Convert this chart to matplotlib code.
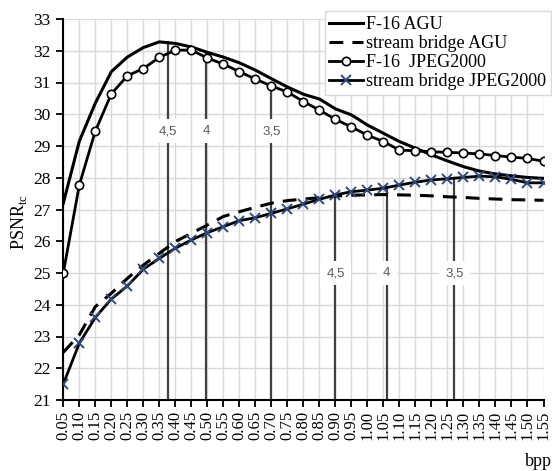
import matplotlib
matplotlib.use("Agg")
import matplotlib.pyplot as plt
import numpy as np

bpp_labels = ['0.05', '0.10', '0.15', '0.20', '0.25', '0.30', '0.35', '0.40',
              '0.45', '0.50', '0.55', '0.60', '0.65', '0.70', '0.75', '0.80',
              '0.85', '0.90', '0.95', '1.00', '1.05', '1.10', '1.15', '1.20',
              '1.25', '1.30', '1.35', '1.40', '1.45', '1.50', '1.55']

f16_agu = [27.2, 29.15, 30.35, 31.34, 31.8, 32.1, 32.28, 32.23, 32.12, 31.95,
           31.8, 31.62, 31.39, 31.12, 30.86, 30.63, 30.48, 30.17, 29.98, 29.66,
           29.4, 29.14, 28.93, 28.72, 28.53, 28.35, 28.21, 28.12, 28.06, 28.01, 27.98]

bridge_agu = [22.5, 23.05, 23.94, 24.36, 24.83, 25.25, 25.62, 25.99, 26.25, 26.51,
              26.78, 26.93, 27.07, 27.2, 27.28, 27.33, 27.37, 27.42, 27.45, 27.46,
              27.47, 27.46, 27.45, 27.43, 27.4, 27.38, 27.35, 27.33, 27.31, 27.3, 27.29]

f16_jpeg = [25.0, 27.77, 29.47, 30.64, 31.21, 31.44, 31.79, 32.02, 32.02, 31.77,
            31.58, 31.34, 31.11, 30.89, 30.7, 30.4, 30.13, 29.84, 29.6, 29.34,
            29.14, 28.87, 28.85, 28.82, 28.8, 28.78, 28.75, 28.7, 28.65, 28.61, 28.52]

bridge_jpeg = [21.5, 22.79, 23.6, 24.18, 24.59, 25.12, 25.46, 25.78, 26.04, 26.27,
               26.46, 26.65, 26.74, 26.88, 27.02, 27.17, 27.32, 27.46, 27.56, 27.61,
               27.67, 27.77, 27.86, 27.93, 27.97, 28.01, 28.05, 28.03, 27.95, 27.84, 27.84]

# compression-ratio markers (category position, top value, label)
cr_labels = ['4,5', '4', '3,5']
f16_cr_pos = [6.54, 8.94, 13.0]
f16_cr_top = [32.27, 31.95, 30.92]
bridge_cr_pos = [17.0, 20.2, 24.42]
bridge_cr_top = [27.45, 27.7, 28.0]
f16_label_y = 29.47
bridge_label_y = 25.0

plt.rcParams['font.family'] = ['Liberation Serif', 'DejaVu Serif']
plt.rcParams['mathtext.fontset'] = 'custom'
plt.rcParams['mathtext.rm'] = 'Liberation Serif'

fig = plt.figure(figsize=(5.52, 4.71), dpi=100)
ax = fig.add_axes([63.3/552, 1-400/471, (543.5-63.3)/552, (400-19)/471])

x = np.arange(len(bpp_labels))

ax.set_xlim(0, len(bpp_labels)-1)
ax.set_ylim(21, 33)
ax.set_xticks(x)
ax.set_xticklabels(bpp_labels, rotation=90, fontsize=12)
ax.set_yticks(np.arange(21, 34, 1))
ax.tick_params(axis='y', labelsize=12.5, direction='out', length=5, width=1.3, pad=4)
ax.tick_params(axis='x', direction='out', length=5, width=1.3, pad=3)
ax.grid(True, color='#d9d9d9', linewidth=1.0)
ax.set_axisbelow(True)
for s in ['top', 'right']:
    ax.spines[s].set_visible(False)
for s in ['left', 'bottom']:
    ax.spines[s].set_linewidth(1.5)

# vertical marker lines
for pos, top in zip(f16_cr_pos, f16_cr_top):
    ax.plot([pos, pos], [21, top], color='#404040', lw=1.6, zorder=2)
for pos, top in zip(bridge_cr_pos, bridge_cr_top):
    ax.plot([pos, pos], [21, top], color='#404040', lw=1.6, zorder=2)
for pos, lab in zip(f16_cr_pos, cr_labels):
    ax.text(pos, f16_label_y, lab, ha='center', va='center', fontsize=9.5,
            family='Liberation Sans', color='#595959', zorder=3,
            bbox=dict(facecolor='white', edgecolor='none', pad=4.5))
for pos, lab in zip(bridge_cr_pos, cr_labels):
    ax.text(pos, bridge_label_y, lab, ha='center', va='center', fontsize=9.5,
            family='Liberation Sans', color='#595959', zorder=3,
            bbox=dict(facecolor='white', edgecolor='none', pad=4.5))

ax.plot(x, f16_agu, color='black', lw=2.2, label='F-16 AGU', zorder=4)
ax.plot(x, bridge_agu, color='black', lw=2.2, ls=(0, (4.5, 3)), label='stream bridge AGU', zorder=4)
ax.plot(x, f16_jpeg, color='black', lw=2.0, marker='o', markersize=6,
        markerfacecolor='white', markeredgecolor='black', markeredgewidth=1.2,
        label='F-16  JPEG2000', zorder=5)
ax.plot(x, bridge_jpeg, color='black', lw=2.0, marker='x', markersize=7,
        markeredgecolor='#2e4a7d', markeredgewidth=1.4,
        label='stream bridge JPEG2000', zorder=5)

leg = ax.legend(loc='upper right', bbox_to_anchor=(1.015, 1.02), fontsize=13,
                frameon=True, fancybox=False, handlelength=1.9, handletextpad=0.15,
                labelspacing=0.12, borderpad=0.25, borderaxespad=0.0)
leg.get_frame().set_edgecolor('#d9d9d9')
leg.get_frame().set_linewidth(1.0)
leg.get_frame().set_alpha(1.0)
leg.set_zorder(10)

fig.text(19/552, 1-222/471, r'PSNR$_{\mathrm{tc}}$', rotation=90, ha='center', va='center', fontsize=13)
fig.text(538/552, 1-461/471, 'bpp', ha='center', va='center', fontsize=13)

fig.savefig('out.png', dpi=100)
